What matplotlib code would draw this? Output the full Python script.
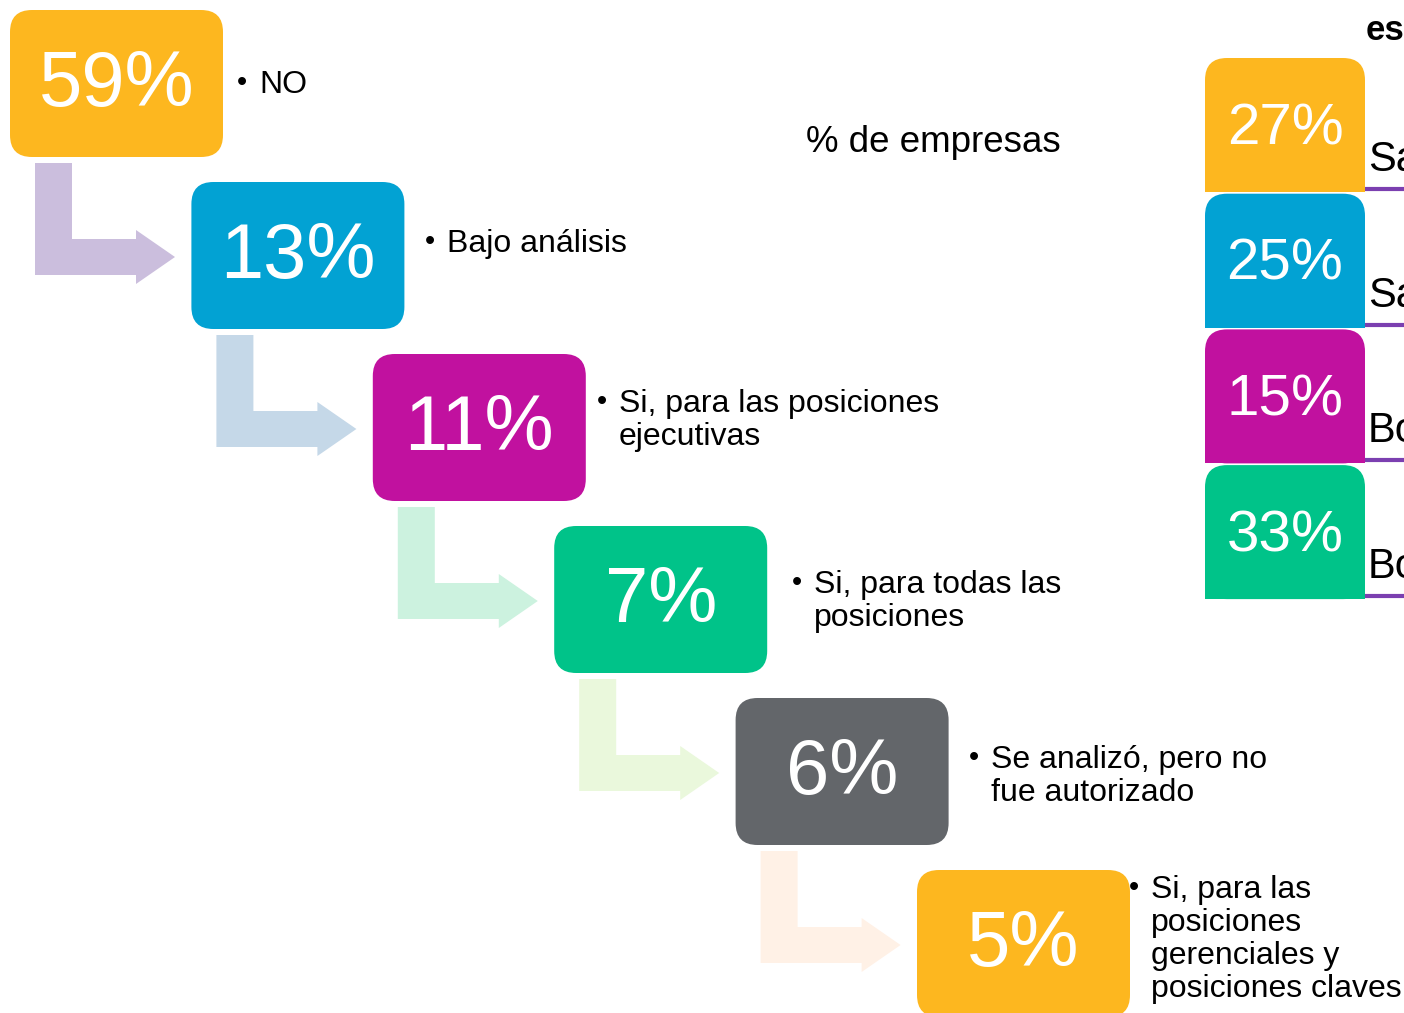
import matplotlib
matplotlib.use("Agg")
import matplotlib.pyplot as plt
from matplotlib.patches import FancyBboxPatch, Rectangle, Polygon

plt.rcParams['font.family'] = ['Liberation Sans', 'DejaVu Sans']

# left cascade
values = [59, 13, 11, 7, 6, 5]
labels = ["NO",
          "Bajo análisis",
          "Si, para las posiciones\nejecutivas",
          "Si, para todas las\nposiciones",
          "Se analizó, pero no\nfue autorizado",
          "Si, para las\nposiciones\ngerenciales y\nposiciones claves"]
box_colors = ["#FDB71F", "#02A2D3", "#C1119F", "#00C389", "#63666A", "#FDB71F"]
arrow_colors = ["#CBBEDD", "#C5D8E8", "#CCF2DF", "#EAF8DC", "#FFF1E6"]

# right column (cut off in the source)
right_values = [27, 25, 15, 33]
right_labels = ["Sa", "Sa", "Bo", "Bo"]
right_colors = ["#FDB71F", "#02A2D3", "#C1119F", "#00C389"]
center_title = "% de empresas"

fig = plt.figure(figsize=(14.04, 10.13), dpi=100)
ax = fig.add_axes([0, 0, 1, 1])
ax.set_xlim(0, 1404)
ax.set_ylim(1013, 0)
ax.axis('off')

W, H = 213, 147
step_x, step_y = 181.4, 172
label_x = [240, 428, 600, 795, 972, 1132]
label_y = [85, 244, 404, 585, 760, 890]

for i, v in enumerate(values):
    bx = 10 + i * step_x
    by = 10 + i * step_y
    ax.add_patch(FancyBboxPatch((bx, by), W, H,
                                boxstyle="round,pad=0,rounding_size=22",
                                fc=box_colors[i], ec='none', zorder=2))
    ax.text(bx + W / 2, by + H / 2 + 2, f"{v}%", color='white', fontsize=56,
            ha='center', va='center', zorder=3)
    ax.text(label_x[i] - 3, label_y[i] - 2, "•", fontsize=21, ha='left', va='center')
    for k, ln in enumerate(labels[i].split('\n')):
        ax.text(label_x[i] + 19, label_y[i] + k * 33, ln, fontsize=23,
                ha='left', va='center')

    if i < len(arrow_colors):
        pts = [(bx + 25, by + 153), (bx + 62, by + 153), (bx + 62, by + 229),
               (bx + 126, by + 229), (bx + 126, by + 220), (bx + 165, by + 247),
               (bx + 126, by + 274), (bx + 126, by + 265), (bx + 25, by + 265)]
        ax.add_patch(Polygon(pts, closed=True, fc=arrow_colors[i], ec='none', zorder=1))

ax.text(806, 142, center_title, fontsize=26.5, ha='left', va='center')

# right column
rx, rw, rh = 1205, 160, 134
ry0 = 58
for j, v in enumerate(right_values):
    ry = ry0 + j * 135.7
    ax.add_patch(FancyBboxPatch((rx, ry), rw, rh,
                                boxstyle="round,pad=0,rounding_size=22",
                                fc=right_colors[j], ec='none', zorder=2))
    ax.add_patch(Rectangle((rx, ry + rh / 2), rw, rh / 2,
                           fc=right_colors[j], ec='none', zorder=2))
    ax.text(rx + rw / 2, ry + 71, f"{v}%", color='white', fontsize=42,
            ha='center', va='center', zorder=3)
    ax.plot([rx + rw, 1404], [ry + rh - 3, ry + rh - 3], color='#7B3FB0', lw=3,
            solid_capstyle='butt', zorder=1)
    ax.text(1368, ry + 102, right_labels[j], fontsize=30, ha='left', va='center')

ax.text(1366, 30, "es", fontsize=25, fontweight='bold', ha='left', va='center')

fig.savefig("out.png", dpi=100)
